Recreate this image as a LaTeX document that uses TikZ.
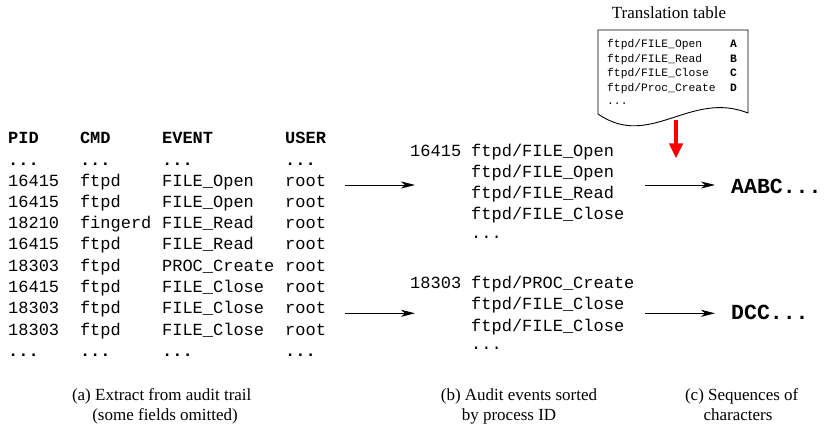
\documentclass[tikz,border=0pt]{standalone}
\usepackage{fontspec}
\setmainfont{Liberation Serif}
\setmonofont{Liberation Mono}
\usetikzlibrary{arrows.meta}
\begin{document}
\begin{tikzpicture}[x=1pt,y=-1pt,
  mono/.style={inner sep=0pt, anchor=base west, font=\fontsize{17}{20}\selectfont\ttfamily},
  monob/.style={mono, font=\fontsize{17}{20}\selectfont\ttfamily\bfseries},
  ttx/.style={inner sep=0pt, anchor=base west, font=\fontsize{11.3}{13}\selectfont\ttfamily},
  ttxb/.style={ttx, font=\fontsize{11.3}{13}\selectfont\ttfamily\bfseries},
  seqtxt/.style={inner sep=0pt, anchor=base west, font=\fontsize{21.5}{24}\selectfont\ttfamily\bfseries},
  captxt/.style={inner sep=0pt, anchor=base, font=\fontsize{17}{20}\selectfont},
  conn/.style={line width=0.9pt, -{Stealth[length=14pt,width=7pt,inset=4pt]}},
  redarr/.style={draw=red, line width=4pt, -{Triangle[length=15pt,width=13pt]}}]
\useasboundingbox (0,0) rectangle (835,427);

% ---- (a) audit trail table ----
\node[monob] (h1) at (8,144) {PID};
\node[monob] (h2) at (79.8,144) {CMD};
\node[monob] (h3) at (161.9,144) {EVENT};
\node[monob] (h4) at (285,144) {USER};
\foreach \r/\yy in {1/165.3, 10/357} {
  \node[monob] (d\r-1) at (8,\yy) {...};
  \node[monob] (d\r-2) at (79.8,\yy) {...};
  \node[monob] (d\r-3) at (161.9,\yy) {...};
  \node[monob] (d\r-4) at (285,\yy) {...};
}
\foreach \r/\a/\b/\c/\d in {
  2/16415/ftpd/FILE\_Open/root,
  3/16415/ftpd/FILE\_Open/root,
  4/18210/fingerd/FILE\_Read/root,
  5/16415/ftpd/FILE\_Read/root,
  6/18303/ftpd/PROC\_Create/root,
  7/16415/ftpd/FILE\_Close/root,
  8/18303/ftpd/FILE\_Close/root,
  9/18303/ftpd/FILE\_Close/root} {
  \node[mono] (r\r-1) at (8,{143.5+21.3*\r}) {\a};
  \node[mono] (r\r-2) at (79.8,{143.5+21.3*\r}) {\b};
  \node[mono] (r\r-3) at (161.9,{143.5+21.3*\r}) {\c};
  \node[mono] (r\r-4) at (285,{143.5+21.3*\r}) {\d};
}

% ---- (b) sorted events ----
\node[mono] (p1) at (410,156.3) {16415};
\node[mono] (e11) at (471,156.3) {ftpd/FILE\_Open};
\node[mono] (e12) at (471,177.3) {ftpd/FILE\_Open};
\node[mono] (e13) at (471,198.3) {ftpd/FILE\_Read};
\node[mono] (e14) at (471,219.5) {ftpd/FILE\_Close};
\node[mono] (e15) at (471,239) {...};

\node[mono] (p2) at (410,289) {18303};
\node[mono] (e21) at (471,289) {ftpd/PROC\_Create};
\node[mono] (e22) at (471,310) {ftpd/FILE\_Close};
\node[mono] (e23) at (471,331.5) {ftpd/FILE\_Close};
\node[mono] (e24) at (471,350) {...};

% ---- (c) sequences ----
\node[seqtxt] (s1) at (731,193.5) {AABC...};
\node[seqtxt] (s2) at (731,319.5) {DCC...};

% ---- connectors ----
\coordinate (la1) at (345,185);
\coordinate (lb1) at (415,185);
\coordinate (la2) at (345,313.3);
\coordinate (lb2) at (415,313.3);
\coordinate (ra1) at (645,185);
\coordinate (rb1) at (715,185);
\coordinate (ra2) at (645,313.3);
\coordinate (rb2) at (715,313.3);
\draw[conn] (la1) -- (lb1);
\draw[conn] (la2) -- (lb2);
\draw[conn] (ra1) -- (rb1);
\draw[conn] (ra2) -- (rb2);

% ---- translation table ----
\node[captxt] (tt) at (669,18.5) {Translation table};
\draw[line width=0.9pt] (598,114) -- (598,30) -- (748,30) -- (748,113)
  .. controls (690,90) and (650,150) .. (598,114) -- cycle;
\node[ttx] (t1) at (607,48) {ftpd/FILE\_Open};
\node[ttx] (t2) at (607,62.4) {ftpd/FILE\_Read};
\node[ttx] (t3) at (607,76.8) {ftpd/FILE\_Close};
\node[ttx] (t4) at (607,91.2) {ftpd/Proc\_Create};
\node[ttx] (t5) at (607,104.5) {...};
\node[ttxb] (k1) at (730,48) {A};
\node[ttxb] (k2) at (730,62.4) {B};
\node[ttxb] (k3) at (730,76.8) {C};
\node[ttxb] (k4) at (730,91.2) {D};
\coordinate (ttb) at (676,120);
\coordinate (ttt) at (676,158.5);
\draw[redarr] (ttb) -- (ttt);

% ---- captions ----
\node[captxt] (ca1) at (161.7,400) {(a) Extract from audit trail};
\node[captxt] (ca2) at (165,420) {(some fields omitted)};
\node[captxt] (cb1) at (519,400) {(b) Audit events sorted};
\node[captxt] (cb2) at (509,420) {by process ID};
\node[captxt] (cc1) at (741.7,400) {(c) Sequences of};
\node[captxt] (cc2) at (738,420) {characters};
\end{tikzpicture}
\end{document}
